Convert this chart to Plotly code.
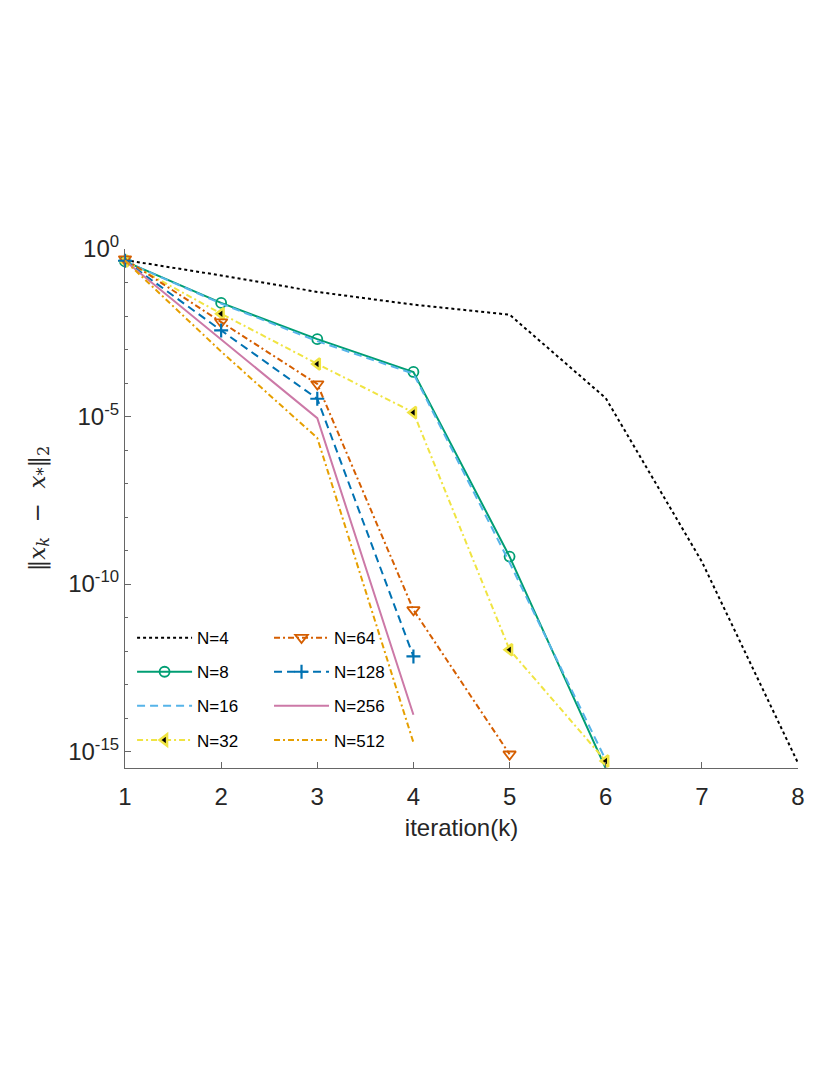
import plotly.graph_objects as go

# iteration index
iters = [1, 2, 3, 4, 5, 6, 7, 8]

# log10 of ||x_k - x_*||_2
err_n4 = [-0.33, -0.79, -1.28, -1.66, -1.96, -4.45, -9.33, -15.34]
err_n8 = [-0.37, -1.61, -2.69, -3.67, -9.18, -15.50]
err_n16 = [-0.37, -1.63, -2.75, -3.72, -9.36, -15.25]
err_n32 = [-0.36, -1.93, -3.43, -4.88, -11.96, -15.28]
err_n64 = [-0.30, -2.18, -4.03, -10.77, -15.08]
err_n128 = [-0.35, -2.43, -4.47, -12.16]
err_n256 = [-0.35, -2.70, -5.05, -13.90]
err_n512 = [-0.35, -3.06, -5.64, -14.73]

major_exp = [0, -5, -10, -15]
major_text = ["10<sup>0</sup>", "10<sup>-5</sup>", "10<sup>-10</sup>", "10<sup>-15</sup>"]
minor_exp = [e for e in range(0, -16, -1) if e not in major_exp]

x_min, x_max = 1, 8
y_bottom = -15.49

series = [
    # name, values, colour, dash, marker, legend
    ("N=4", err_n4, "#000000", "dot", None, "legend"),
    ("N=8", err_n8, "#009E73", "solid",
     dict(symbol="circle-open", size=10, line=dict(width=1.8, color="#009E73")), "legend"),
    ("N=16", err_n16, "#56B4E9", "8px,5px", None, "legend"),
    ("N=32", err_n32, "#F0E442", "6px,3px,2px,3px",
     dict(symbol="triangle-left", size=10, color="#000000", line=dict(width=2.5, color="#F0E442")), "legend"),
    ("N=64", err_n64, "#D55E00", "6px,3px,2px,3px",
     dict(symbol="triangle-down-open", size=11, line=dict(width=1.8, color="#D55E00")), "legend2"),
    ("N=128", err_n128, "#0072B2", "8px,5px",
     dict(symbol="cross-thin", size=10, line=dict(width=2.2, color="#0072B2")), "legend2"),
    ("N=256", err_n256, "#CC79A7", "solid", None, "legend2"),
    ("N=512", err_n512, "#E69F00", "6px,3px,2px,3px", None, "legend2"),
]

fig = go.Figure()
for name, vals, color, dash, marker, leg in series:
    fig.add_trace(go.Scatter(
        x=iters[:len(vals)],
        y=[10 ** v for v in vals],
        name=name,
        mode="lines+markers" if marker else "lines",
        line=dict(color=color, dash=dash, width=2),
        marker=marker,
        legend=leg,
        legendgroup=name,
        cliponaxis=False,
    ))

legend_style = dict(
    font=dict(family="Liberation Sans, Arial, sans-serif", size=17, color="#000000"),
    bgcolor="rgba(0,0,0,0)",
    borderwidth=0,
    traceorder="grouped",
    tracegroupgap=9,
    itemwidth=55,
    xanchor="left",
    yanchor="top",
)

# the page body adds an 8px offset, so the margins are trimmed by that much
fig.update_layout(
    width=830,
    height=1075,
    paper_bgcolor="white",
    plot_bgcolor="white",
    margin=dict(l=117, r=40, t=241, b=315),
    font=dict(family="Liberation Sans, Arial, sans-serif", color="#262626"),
    legend=dict(x=0.0105, y=0.285, **legend_style),
    legend2=dict(x=0.214, y=0.285, **legend_style),
    xaxis=dict(
        range=[x_min, x_max],
        tickvals=iters,
        ticks="inside",
        ticklen=6,
        tickcolor="#666666",
        showline=True,
        linecolor="#666666",
        linewidth=1.2,
        showgrid=False,
        zeroline=False,
        tickfont=dict(size=24, color="#262626"),
        ticklabelstandoff=7,
        title=dict(text="iteration(k)", font=dict(size=24, color="#262626"), standoff=10),
    ),
    yaxis=dict(
        type="log",
        range=[y_bottom, 0],
        tickvals=[10 ** e for e in major_exp],
        ticktext=major_text,
        ticks="inside",
        ticklen=6,
        tickcolor="#666666",
        minor=dict(tickvals=[10 ** e for e in minor_exp], ticks="inside", ticklen=3,
                   tickcolor="#666666", showgrid=False),
        showline=True,
        linecolor="#666666",
        linewidth=1.2,
        showgrid=False,
        zeroline=False,
        tickfont=dict(size=24, color="#262626"),
        title=dict(
            text="‖<i>x</i><sub><i>k</i></sub>  −  <i>x</i><sub>*</sub>‖<sub>2</sub>",
            font=dict(family="DejaVu Serif, Liberation Serif, serif", size=23, color="#262626"),
            standoff=16,
        ),
    ),
)

fig.write_html("out.html")
